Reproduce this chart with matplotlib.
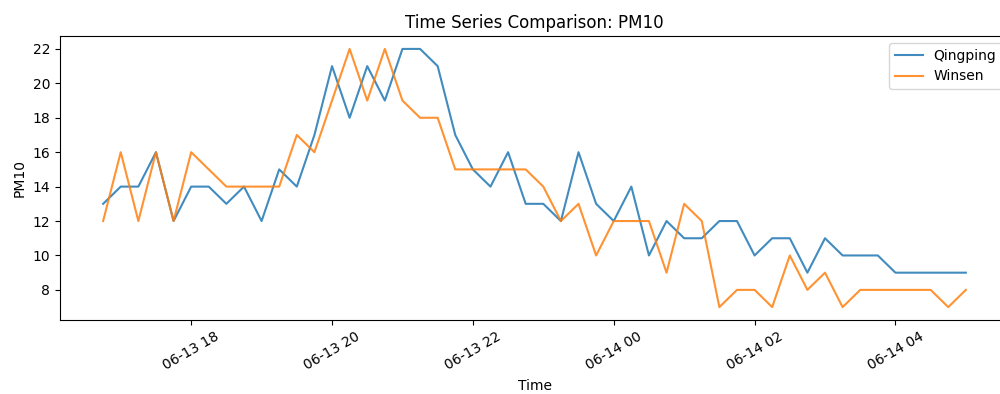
import matplotlib
matplotlib.use("Agg")
import matplotlib.pyplot as plt
import matplotlib.dates as mdates
import pandas as pd

times = pd.date_range("2024-06-13 16:45", periods=50, freq="15min")
qingping = [13, 14, 14, 16, 12, 14, 14, 13, 14, 12, 15, 14, 17, 21, 18, 21,
            19, 22, 22, 21, 17, 15, 14, 16, 13, 13, 12, 16, 13, 12, 14, 10, 12,
            11, 11, 12, 12, 10, 11, 11, 9, 11, 10, 10, 10, 9, 9, 9, 9, 9]
winsen = [12, 16, 12, 16, 12, 16, 15, 14, 14, 14, 14, 17, 16, 19, 22, 19,
          22, 19, 18, 18, 15, 15, 15, 15, 15, 14, 12, 13, 10, 12, 12, 12, 9,
          13, 12, 7, 8, 8, 7, 10, 8, 9, 7, 8, 8, 8, 8, 8, 7, 8]

fig = plt.figure(figsize=(10, 3.94), dpi=100)
ax = fig.add_axes([0.060, 0.1878, 0.949, 0.7208])
ax.plot(times, qingping, label="Qingping", color="#1f77b4", alpha=0.85, linewidth=1.5)
ax.plot(times, winsen, label="Winsen", color="#ff7f0e", alpha=0.85, linewidth=1.5)
ax.set_title("Time Series Comparison: PM10")
ax.set_xlabel("Time")
ax.set_ylabel("PM10")
ax.xaxis.set_major_locator(mdates.HourLocator(byhour=range(0, 24, 2)))
ax.xaxis.set_major_formatter(mdates.DateFormatter("%m-%d %H"))
plt.setp(ax.get_xticklabels(), rotation=30)
ax.legend(loc="upper right")
fig.savefig("out.png", dpi=100)
